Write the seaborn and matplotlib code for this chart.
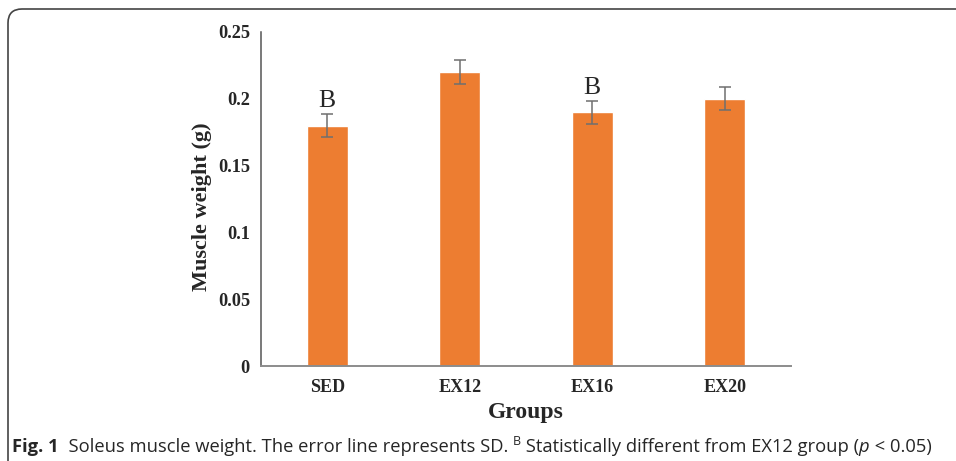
import matplotlib
matplotlib.use("Agg")
import matplotlib.pyplot as plt
import seaborn as sns
import pandas as pd
from matplotlib.patches import FancyBboxPatch

# -------------------------------
# Data
# -------------------------------
groups = ["SED", "EX12", "EX16", "EX20"]
weight = [0.18, 0.22, 0.19, 0.20]
sd = [0.0087, 0.0087, 0.0087, 0.0087]
letters = ["B", "", "B", ""]

yticks = [0, 0.05, 0.1, 0.15, 0.2, 0.25]
ytick_labels = ["0", "0.05", "0.1", "0.15", "0.2", "0.25"]

df = pd.DataFrame({"Group": groups, "Weight": weight, "SD": sd})

# -------------------------------
# Style
# -------------------------------
sns.set_style("white")
serif = ["Liberation Serif", "DejaVu Serif"]
orange = "#ED7D31"

fig = plt.figure(figsize=(9.56, 4.61), dpi=100)
ax = fig.add_axes([261 / 956, 1 - 366 / 461, 530 / 956, 334 / 461])

sns.barplot(data=df, x="Group", y="Weight", color=orange, saturation=1,
            width=0.31, errorbar=None, ax=ax, zorder=2)
ax.errorbar(range(len(groups)), df["Weight"], yerr=df["SD"], fmt="none",
            ecolor="#6f6f6f", elinewidth=1.1, capsize=4, capthick=1.1, zorder=3)

for i, (lab, v, s) in enumerate(zip(letters, weight, sd)):
    if lab:
        ax.text(i, v + s + 0.0015, lab, ha="center", va="bottom",
                fontsize=18.5, family=serif)

ax.set_ylim(0, 0.25)
ax.set_xlim(-0.5, len(groups) - 0.5)
ax.set_yticks(yticks)
ax.set_yticklabels(ytick_labels, family=serif, fontweight="bold", fontsize=13.2)
ax.set_xticks(range(len(groups)))
ax.set_xticklabels(groups, family=serif, fontweight="bold", fontsize=13)
ax.tick_params(axis="y", length=0, pad=8)
ax.tick_params(axis="x", length=0, pad=9)

ax.set_xlabel("Groups", family=serif, fontweight="bold", fontsize=17, labelpad=5)
ax.set_ylabel("Muscle weight (g)", family=serif, fontweight="bold", fontsize=16)
ax.yaxis.set_label_coords(-0.093, 0.478)

for side in ["top", "right"]:
    ax.spines[side].set_visible(False)
ax.spines["left"].set_color("#555555")
ax.spines["bottom"].set_color("#8c8c8c")
ax.spines["left"].set_linewidth(1.1)
ax.spines["bottom"].set_linewidth(1.4)

# -------------------------------
# Frame and caption
# -------------------------------
# display coordinates: origin bottom-left, so the box runs off the bottom/right edges
frame = FancyBboxPatch((8, -30), 1000, 461 - 9 + 30,
                       boxstyle="round,pad=0,rounding_size=14",
                       transform=None, facecolor="none", edgecolor="#444444",
                       linewidth=1.2)
fig.patches.append(frame)

sans = ["Open Sans", "DejaVu Sans"]
base_y = 461 - 452
cap_size = 13.2
pieces = [
    ("Fig. 1", dict(fontweight="bold", fontsize=cap_size), 0),
    ("  Soleus muscle weight. The error line represents SD. ", dict(fontsize=cap_size), 0),
    ("B", dict(fontsize=9), 7),
    (" Statistically different from EX12 group (", dict(fontsize=cap_size), 0),
    ("p", dict(fontsize=cap_size, style="italic"), 0),
    (" < 0.05)", dict(fontsize=cap_size), 0),
]
prev = fig.text(12 / 956, base_y / 461, pieces[0][0], family=sans, va="baseline",
                ha="left", **pieces[0][1])
for txt, kw, rise in pieces[1:]:
    prev = ax.annotate(txt, xy=(1, base_y + rise), xycoords=(prev, "figure pixels"),
                       ha="left", va="baseline", family=sans,
                       annotation_clip=False, **kw)

fig.savefig("out.png", dpi=100)
